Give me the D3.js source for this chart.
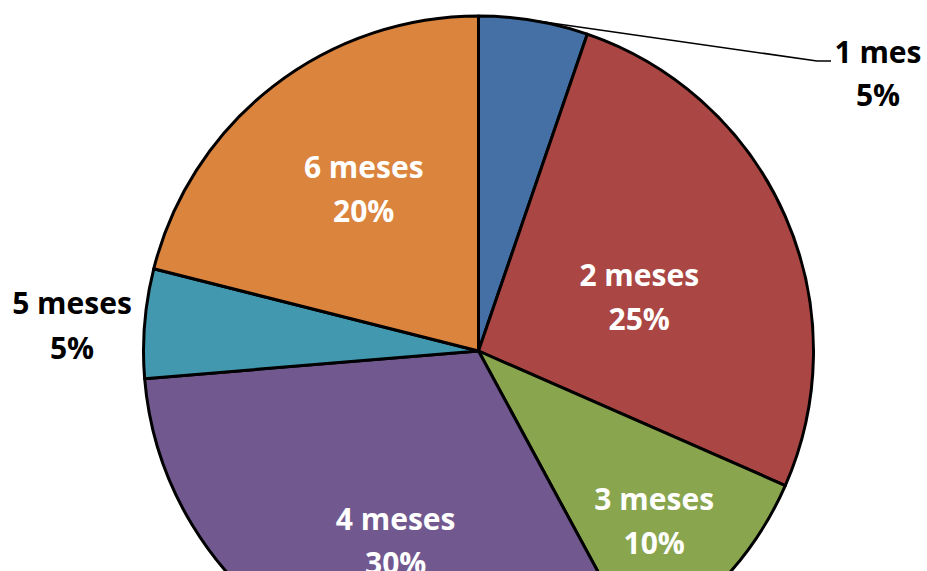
<!DOCTYPE html>
<html><head><meta charset="utf-8">
<script src="https://cdn.jsdelivr.net/npm/d3@7"></script>
<style>html,body{margin:0;padding:0;background:#fff;overflow:hidden}</style>
</head><body>
<svg id="c" width="927" height="571"></svg>
<script>
const categories = ["1 mes","2 meses","3 meses","4 meses","5 meses","6 meses"];
const values = [1,5,2,6,1,4];
const percentLabels = ["5%","25%","10%","30%","5%","20%"];
const colors = ["#4470A6","#AA4643","#89A54E","#71588F","#4198AF","#DB843D"];
// label placement (angle offset deg, radius factor) per slice; null = outside label
const labelPlace = [null,[5.5,0.505],[1.6,0.732],[-5,0.622],null,[2.4,0.59]];

const svg = d3.select("#c");
const cx = 478.5, cy = 351, R = 335;
const g = svg.append("g").attr("transform",`translate(${cx},${cy})`);
const pie = d3.pie().sort(null).value(d=>d);
const arcs = pie(values);
const arc = d3.arc().innerRadius(0).outerRadius(R);

g.selectAll("path.s").data(arcs).enter().append("path")
  .attr("d",arc).attr("fill",(d,i)=>colors[i])
  .attr("stroke","#000").attr("stroke-width",3).attr("stroke-linejoin","round");

const font = "'Open Sans', Lato, sans-serif";
const fs = 30;
function label(x,b1,i,fill,gap){
  const t = svg.append("text").attr("x",x).attr("y",b1).attr("text-anchor","middle")
    .attr("font-family",font).attr("font-weight",700).attr("font-size",fs).attr("fill",fill);
  t.append("tspan").attr("x",x).attr("dy",0).text(categories[i]);
  t.append("tspan").attr("x",x).attr("dy",gap||44).text(percentLabels[i]);
}
arcs.forEach((d,i)=>{
  const lp = labelPlace[i];
  if(!lp) return;
  const a = (d.startAngle+d.endAngle)/2 + lp[0]*Math.PI/180;
  const r = lp[1]*R;
  const x = cx + r*Math.sin(a), y = cy - r*Math.cos(a);
  label(x, y-12, i, "#fff");
});
// outside labels
{
  const d = arcs[0];
  const a = (d.startAngle+d.endAngle)/2;
  const x0 = cx + R*Math.sin(a), y0 = cy - R*Math.cos(a);
  svg.append("path").attr("d",`M${x0},${y0}L817,61L831,61`).attr("fill","none")
    .attr("stroke","#000").attr("stroke-width",1.6);
  label(878, 63, 0, "#000", 43);
}
label(72, 314, 4, "#000", 45);
</script>
</body></html>
